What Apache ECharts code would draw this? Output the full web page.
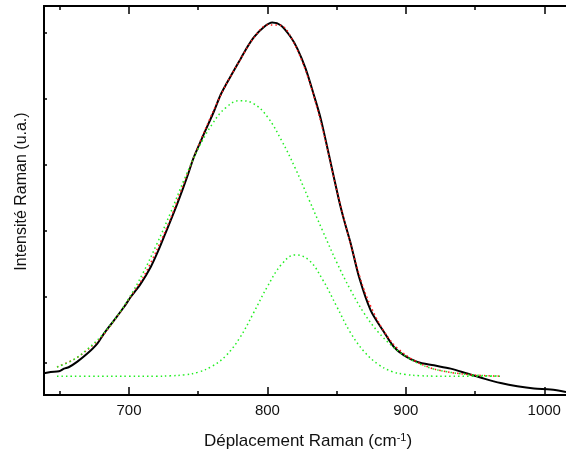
<!DOCTYPE html>
<html>
<head>
<meta charset="utf-8">
<script src="https://cdn.jsdelivr.net/npm/echarts@6/dist/echarts.min.js"></script>
<style>
  html, body { margin: 0; padding: 0; background: #fff; }
  #chart { width: 566px; height: 456px; }
</style>
</head>
<body>
<div id="chart"></div>
<script>
// values (intensity in tick units, a.u.)
const measX = [638.6, 643.4, 649.4, 653.0, 656.7, 662.7, 669.9, 677.1, 681.9, 689.2, 696.4, 701.2, 708.5, 715.7, 721.7, 727.7, 732.5, 736.0, 742.1, 747.0, 754.2, 761.4, 766.2, 771.0, 775.8, 780.7, 785.5, 790.3, 797.5, 803.5, 809.6, 816.8, 821.6, 827.6, 833.6, 838.5, 844.5, 851.7, 855.4, 860.2, 866.2, 874.6, 884.2, 891.4, 898.7, 908.3, 920.3, 932.4, 944.4, 956.5, 968.5, 980.5, 992.6, 1004.6, 1015.7];
const measY = [-0.167, -0.147, -0.137, -0.096, -0.071, 0.011, 0.132, 0.284, 0.436, 0.637, 0.839, 0.991, 1.194, 1.446, 1.720, 2.030, 2.280, 2.470, 2.820, 3.120, 3.470, 3.810, 4.060, 4.250, 4.430, 4.608, 4.785, 4.936, 5.088, 5.155, 5.114, 4.936, 4.760, 4.457, 4.052, 3.698, 3.141, 2.458, 2.155, 1.801, 1.294, 0.789, 0.460, 0.232, 0.106, 0.005, -0.046, -0.096, -0.171, -0.247, -0.314, -0.364, -0.399, -0.414, -0.451];

const fitX = [648, 660, 670, 680, 690, 700, 710, 720, 730, 740, 750, 760, 770, 780, 790, 800, 810, 820, 830, 840, 850, 860, 870, 880, 890, 900, 910, 920, 930, 940, 950, 960, 968];
const fitY = [-0.07, 0.04, 0.19, 0.38, 0.65, 0.96, 1.28, 1.70, 2.18, 2.74, 3.28, 3.77, 4.21, 4.58, 4.92, 5.12, 5.11, 4.81, 4.28, 3.53, 2.62, 1.80, 1.09, 0.62, 0.30, 0.11, -0.016, -0.10, -0.145, -0.174, -0.194, -0.205, -0.21];

const peak1X = [648, 660, 670, 680, 690, 700, 710, 720, 730, 740, 750, 760, 770, 780, 790, 800, 810, 820, 830, 840, 850, 860, 870, 880, 890, 900, 910, 920, 930, 940, 950, 960, 968];
const peak1Y = [-0.07, 0.04, 0.20, 0.40, 0.66, 0.975, 1.35, 1.79, 2.27, 2.78, 3.24, 3.61, 3.865, 3.97, 3.925, 3.725, 3.375, 2.95, 2.47, 1.99, 1.52, 1.10, 0.74, 0.46, 0.25, 0.09, -0.025, -0.10, -0.145, -0.174, -0.194, -0.205, -0.21];

const peak2X = [648, 680, 700, 720, 730, 740, 750, 760, 770, 780, 790, 800, 810, 820, 830, 840, 850, 860, 870, 880, 890, 900, 910, 920, 940, 968];
const peak2Y = [-0.212, -0.212, -0.212, -0.212, -0.205, -0.19, -0.15, -0.06, 0.10, 0.37, 0.75, 1.15, 1.48, 1.63, 1.55, 1.25, 0.85, 0.45, 0.16, -0.03, -0.14, -0.185, -0.203, -0.21, -0.212, -0.212];

const xMajorTicks = [700, 800, 900, 1000];
const xMinorTicks = [650, 750, 850, 950];
const yTicks = [0, 1, 2, 3, 4, 5];

const pairs = (xs, ys) => xs.map((x, i) => [x, ys[i]]);

const font = "'Liberation Sans', Arial, sans-serif";
const xMin = 638.6, xMax = 1015.7;

const tickAxis = (position, ticks, len, labels) => ({
    type: "value",
    position: position,
    min: xMin,
    max: xMax,
    axisLine: { show: true, onZero: false, lineStyle: { color: "#000", width: 2 } },
    axisTick: { show: true, inside: true, length: len, customValues: ticks, lineStyle: { color: "#000", width: 1.5 } },
    axisLabel: labels
        ? { show: true, customValues: ticks, color: "#111", fontSize: 15, fontFamily: font, margin: 8, formatter: (v) => String(v) }
        : { show: false },
    splitLine: { show: false },
});

const chart = echarts.init(document.getElementById("chart"));

const bottomMajor = tickAxis("bottom", xMajorTicks, 8, true);
bottomMajor.name = "Déplacement Raman (cm{sup|-1})";
bottomMajor.nameLocation = "middle";
bottomMajor.nameGap = 37;
bottomMajor.nameTextStyle = {
    fontSize: 17,
    color: "#111",
    fontFamily: font,
    padding: [0, 0, 0, 6],
    rich: {
        sup: { fontSize: 11, fontFamily: font, color: "#111", verticalAlign: "top", padding: [0, 0, 8, 0] },
    },
};

const dotted = (color) => ({ color: color, width: 1.5, type: [1.5, 3] });

chart.setOption({
    animation: false,
    backgroundColor: "#fff",
    grid: { left: 44, right: 0, top: 6, bottom: 61, containLabel: false },
    xAxis: [
        bottomMajor,
        tickAxis("bottom", xMinorTicks, 4, false),
        tickAxis("top", xMajorTicks, 8, false),
        tickAxis("top", xMinorTicks, 4, false),
    ],
    yAxis: {
        type: "value",
        min: -0.496,
        max: 5.407,
        axisLine: { show: true, lineStyle: { color: "#000", width: 2 } },
        axisTick: { show: true, inside: true, length: 3, customValues: yTicks, lineStyle: { color: "#000", width: 1.5 } },
        axisLabel: { show: false },
        splitLine: { show: false },
        name: "Intensité Raman (u.a.)",
        nameLocation: "middle",
        nameGap: 14,
        nameTextStyle: { fontSize: 16, color: "#111", fontFamily: font, padding: [0, 0, 0, 18] },
    },
    series: [
        {
            name: "mesure",
            type: "line",
            data: pairs(measX, measY),
            showSymbol: false,
            smooth: 0.3,
            lineStyle: { color: "#000", width: 2 },
            z: 2,
        },
        {
            name: "somme",
            type: "line",
            data: pairs(fitX, fitY),
            showSymbol: false,
            smooth: 0.3,
            lineStyle: dotted("#ff1a1a"),
            z: 3,
        },
        {
            name: "pic 1",
            type: "line",
            data: pairs(peak1X, peak1Y),
            showSymbol: false,
            smooth: 0.4,
            lineStyle: dotted("#22ee22"),
            z: 4,
        },
        {
            name: "pic 2",
            type: "line",
            data: pairs(peak2X, peak2Y),
            showSymbol: false,
            smooth: 0.4,
            lineStyle: dotted("#22ee22"),
            z: 4,
        },
    ],
});
</script>
</body>
</html>
